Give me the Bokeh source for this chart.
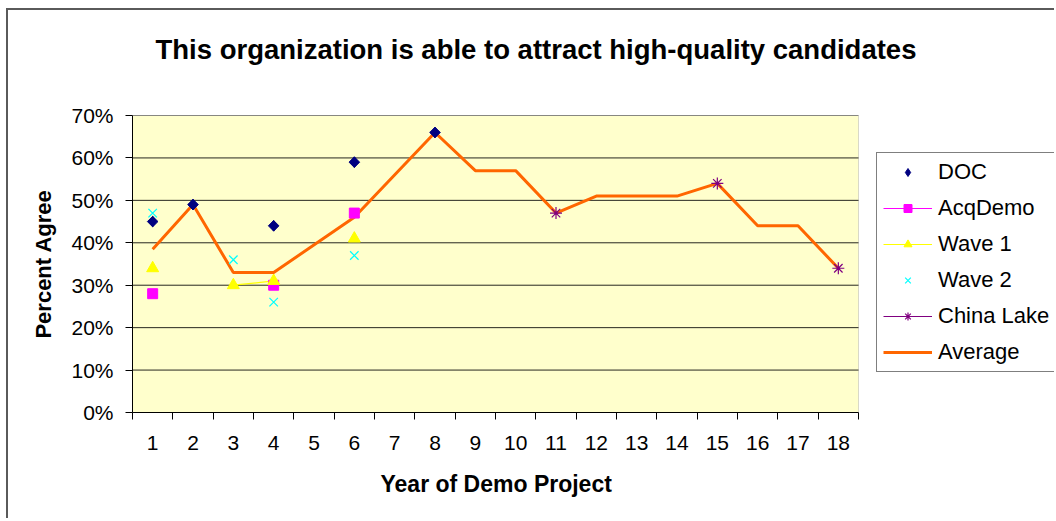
import math
from bokeh.plotting import figure
from bokeh.models import (Range1d, FixedTicker, NumeralTickFormatter, Legend, LegendItem,
                          ColumnDataSource, BoxAnnotation, Title)
from bokeh.embed import file_html
from bokeh.resources import INLINE

nan = float("nan")

# ---- data (percent agree) ----
years = list(range(1, 19))
year_labels = [str(y) for y in years]
doc_pct = [45, 49, nan, 44, nan, 59, nan, 66, nan, nan, nan, nan, nan, nan, nan, nan, nan, nan]
acq_pct = [28, nan, nan, 30, nan, 47, nan, nan, nan, nan, nan, nan, nan, nan, nan, nan, nan, nan]
wave1_pct = [34, nan, 30, 31, nan, 41, nan, nan, nan, nan, nan, nan, nan, nan, nan, nan, nan, nan]
wave2_pct = [47, nan, 36, 26, nan, 37, nan, nan, nan, nan, nan, nan, nan, nan, nan, nan, nan, nan]
china_pct = [nan, nan, nan, nan, nan, nan, nan, nan, nan, nan, 47, nan, nan, nan, 54, nan, nan, 34]
avg_years = [1, 2, 3, 4, 6, 8, 9, 10, 11, 12, 13, 14, 15, 16, 17, 18]
avg_pct = [38.5, 49, 33, 33, 46, 66, 57, 57, 47, 51, 51, 51, 54, 44, 44, 34]
y_ticks_pct = [0, 10, 20, 30, 40, 50, 60, 70]

src = ColumnDataSource(dict(
    year=years,
    doc=[v / 100 for v in doc_pct],
    acq=[v / 100 for v in acq_pct],
    wave1=[v / 100 for v in wave1_pct],
    wave2=[v / 100 for v in wave2_pct],
    china=[v / 100 for v in china_pct],
))
avg_src = ColumnDataSource(dict(year=avg_years, avg=[v / 100 for v in avg_pct]))
x_lo, x_hi = years[0] - 0.5, years[-1] + 0.5
grid_src = ColumnDataSource(dict(y=[v / 100 for v in y_ticks_pct[1:]],
                                 x0=[x_lo] * (len(y_ticks_pct) - 1),
                                 x1=[x_hi] * (len(y_ticks_pct) - 1)))

FONT = "Liberation Sans"

# layout geometry (pixels)
FIG_W, FIG_H = 1048, 510
B_LEFT, B_RIGHT, B_TOP, B_BOTTOM = 124, 2, 105, 108
PLOT_W = 726                      # width of the yellow plot area
FRAME_W = FIG_W - B_LEFT - B_RIGHT
x_end = x_lo + (x_hi - x_lo) * FRAME_W / PLOT_W

p = figure(width=FIG_W, height=FIG_H, title=None,
           x_range=Range1d(x_lo, x_end), y_range=Range1d(0, 0.7),
           output_backend="svg", toolbar_location=None,
           min_border_left=B_LEFT, min_border_right=B_RIGHT,
           min_border_top=B_TOP, min_border_bottom=B_BOTTOM)
p.styles = {"margin-left": "6px", "margin-top": "8px",
            "border-left": "2px solid #5a5a5a", "border-top": "2px solid #5a5a5a"}

# chart title (trailing empty line lifts it within its panel)
p.add_layout(Title(text="This organization is able to attract high-quality candidates\n",
                   align="left", offset=23, standoff=39,
                   text_font=FONT, text_font_size="27.5px", text_font_style="bold",
                   text_color="black"), "above")

p.background_fill_color = "white"
p.border_fill_color = "white"
p.outline_line_color = None

# yellow plot area
p.add_layout(BoxAnnotation(left=x_lo, right=x_hi, bottom=0, top=0.7, level="underlay",
                           fill_color="#FFFFCC", fill_alpha=1,
                           line_color="#808080", line_width=1))

# x axis
p.xaxis.bounds = (x_lo, x_hi)
p.xaxis.ticker = FixedTicker(ticks=years, minor_ticks=[y - 0.5 for y in years] + [x_hi])
p.xaxis.major_label_overrides = {y: s for y, s in zip(years, year_labels)}
p.xaxis.major_tick_out = 0
p.xaxis.major_tick_in = 0
p.xaxis.minor_tick_out = 7
p.xaxis.minor_tick_in = 0
p.xaxis.minor_tick_line_color = "black"
p.xaxis.major_label_standoff = 16

# y axis
p.yaxis.ticker = FixedTicker(ticks=[v / 100 for v in y_ticks_pct])
p.yaxis.formatter = NumeralTickFormatter(format="0%")
p.yaxis.major_tick_out = 7
p.yaxis.major_tick_in = 0
p.yaxis.minor_tick_line_color = None
p.yaxis.major_label_standoff = 12
p.yaxis.axis_label = "Percent Agree"
p.yaxis.axis_label_standoff = 12
p.yaxis.axis_label_text_font_size = "22px"

for ax in (p.xaxis, p.yaxis):
    ax.axis_line_color = "black"
    ax.major_tick_line_color = "black"
    ax.major_label_text_font = FONT
    ax.major_label_text_font_size = "21px"
    ax.major_label_text_color = "black"
    ax.axis_label_text_font = FONT
    ax.axis_label_text_font_style = "bold"
    ax.axis_label_text_color = "black"

p.add_layout(Title(text="Year of Demo Project", align="left", offset=248, standoff=32,
                   text_font=FONT, text_font_size="23px", text_font_style="bold",
                   text_color="black"), "below")

p.xgrid.grid_line_color = None
p.ygrid.grid_line_color = None
p.segment(x0="x0", y0="y", x1="x1", y1="y", source=grid_src,
          line_color="black", line_alpha=0.85, line_width=1)

# series
r_avg = p.line("year", "avg", source=avg_src, line_color="#FF6600", line_width=3)

r_acq_l = p.line("year", "acq", source=src, line_color="#FF00FF", line_width=1)
r_w1_l = p.line("year", "wave1", source=src, line_color="#FFFF00", line_width=1.2)
r_ch_l = p.line("year", "china", source=src, line_color="#800080", line_width=1)

# DOC: diamond (used for the legend key) under a rotated square of the same span
r_doc_key = p.scatter("year", "doc", source=src, marker="diamond", size=10.5,
                      fill_color="#000080", line_color="#000080")
r_doc = p.scatter("year", "doc", source=src, marker="square", angle=math.pi / 4, size=7.5,
                  fill_color="#000080", line_color="#000080")
r_acq = p.scatter("year", "acq", source=src, marker="square", size=10,
                  fill_color="#FF00FF", line_color="#FF00FF")
r_w1 = p.scatter("year", "wave1", source=src, marker="triangle", size=12,
                 fill_color="#FFFF00", line_color="#FFFF00")
r_w2 = p.scatter("year", "wave2", source=src, marker="x", size=12,
                 line_color="#00FFFF", line_width=1.2)
r_ch = p.scatter("year", "china", source=src, marker="asterisk", size=12,
                 line_color="#800080", line_width=1.2)

legend = Legend(items=[
    LegendItem(label="DOC", renderers=[r_doc_key]),
    LegendItem(label="AcqDemo", renderers=[r_acq_l, r_acq]),
    LegendItem(label="Wave 1", renderers=[r_w1_l, r_w1]),
    LegendItem(label="Wave 2", renderers=[r_w2]),
    LegendItem(label="China Lake", renderers=[r_ch_l, r_ch]),
    LegendItem(label="Average", renderers=[r_avg]),
], location=(744, 40))
legend.label_text_font = FONT
legend.label_text_font_size = "22px"
legend.label_text_color = "black"
legend.glyph_width = 49
legend.glyph_height = 20
legend.label_height = 20
legend.spacing = 10
legend.padding = 6
legend.margin = 0
legend.label_standoff = 6
legend.border_line_color = "black"
legend.border_line_width = 1
legend.background_fill_color = "white"
legend.background_fill_alpha = 1
p.add_layout(legend, "center")

open("out.html", "w").write(file_html(p, INLINE))
